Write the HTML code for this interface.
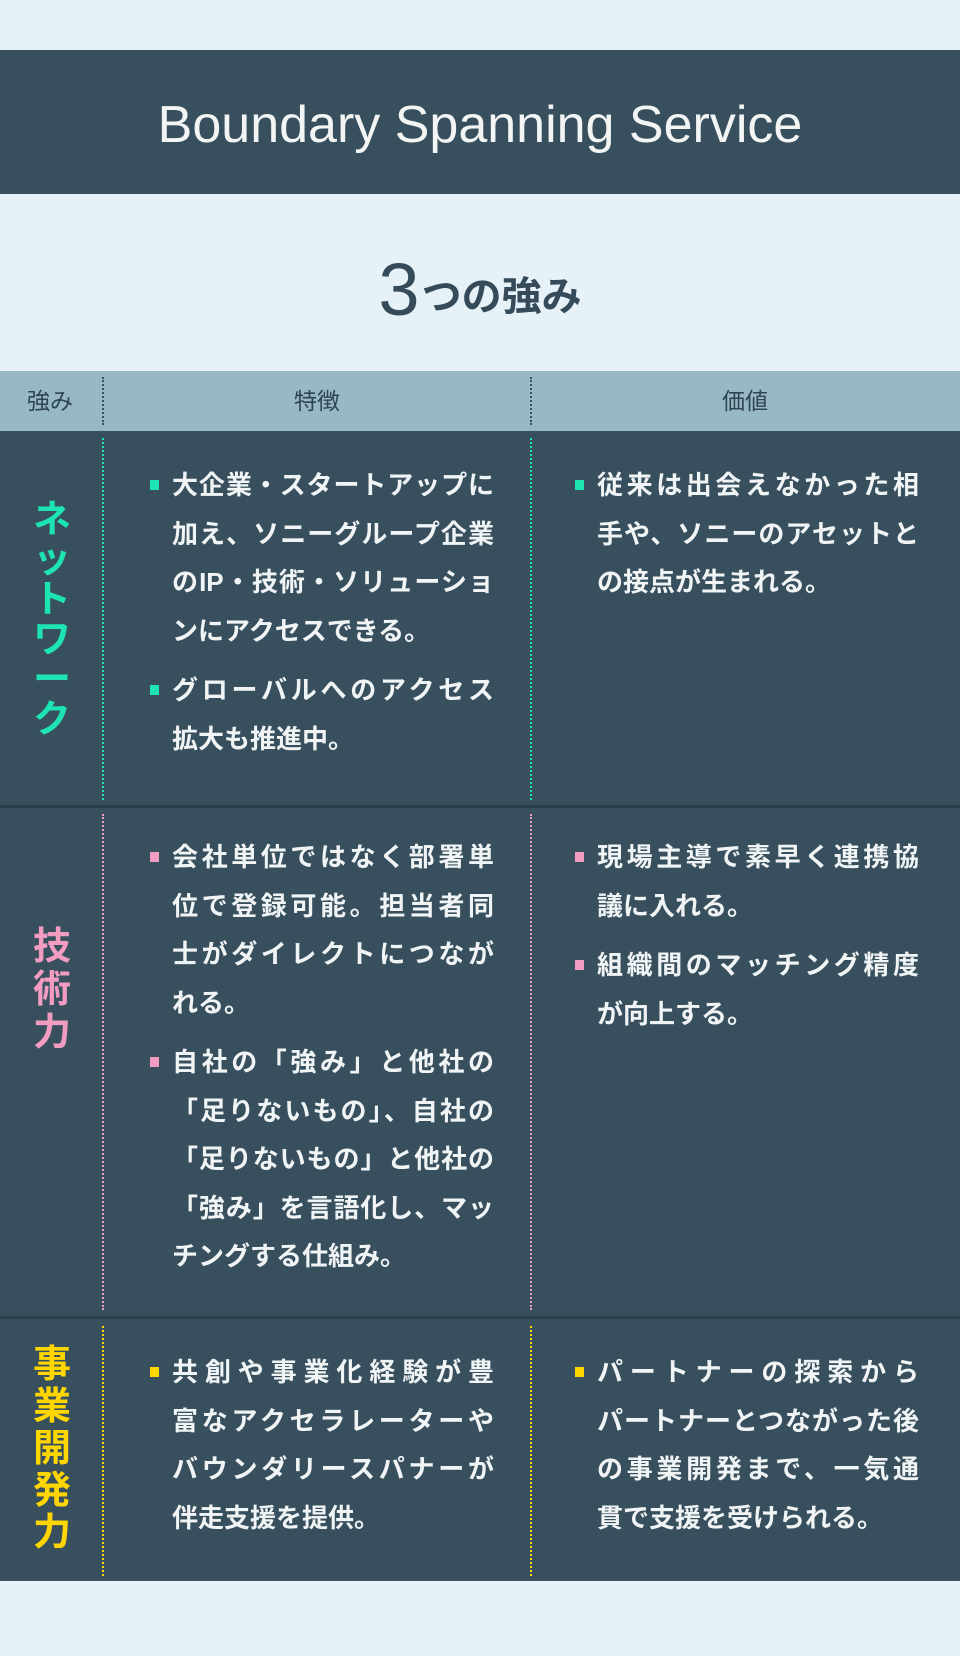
<!DOCTYPE html>
<html><head><meta charset="utf-8"><style>
*{margin:0;padding:0;box-sizing:border-box}
body{width:960px;height:1656px;background:#e6f2f8;position:relative;overflow:hidden;font-family:"Liberation Sans","Noto Sans CJK JP",sans-serif}
.abs{position:absolute}
.band{left:0;width:960px;top:50px;height:144px;background:#384f5e;color:#f2f5f4;font-size:52px;text-align:center;line-height:150px}
.sub{left:0;width:960px;top:248px;text-align:center;color:#364b59;font-size:40px;font-weight:bold;line-height:84px}
.sub b{font-size:74px;font-weight:normal;vertical-align:-5px;margin-right:2px}
.head{left:0;top:371px;width:960px;height:60px;background:#98b9c3;color:#2f4452;font-size:23px;line-height:60px}
.head span{position:absolute;top:0;transform:translateX(-50%)}
.row{left:0;width:960px;background:#384f5e}
.sep{left:0;width:960px;height:3px;background:#2b3f4c}
.vd{width:0;border-left:2px dotted}
.lab{font-size:38px;font-weight:bold;text-align:center;width:100px;left:2px}
.txt{color:#f0f4f5;font-size:26px;line-height:48.5px;font-weight:bold;white-space:nowrap;width:322px}
.txt div div{white-space:nowrap}
.j{text-align:justify;text-align-last:justify}
.p{position:relative;margin-bottom:11px}
.p:before{content:"";position:absolute;left:-22px;top:19px;width:9px;height:10px;background:var(--c)}
</style></head><body>
<div class="abs band">Boundary Spanning Service</div>
<div class="abs sub"><b>3</b>つの強み</div>
<div class="abs head"><span style="left:50px">強み</span><span style="left:317px">特徴</span><span style="left:745px">価値</span>
<div class="abs vd" style="left:102px;top:6px;height:48px;border-color:#3b4f5c"></div>
<div class="abs vd" style="left:530px;top:6px;height:48px;border-color:#3b4f5c"></div></div>

<div class="abs row" style="top:431px;height:375px"></div>
<div class="abs sep" style="top:805px"></div>
<div class="abs row" style="top:808px;height:509px"></div>
<div class="abs sep" style="top:1316px"></div>
<div class="abs row" style="top:1319px;height:262px"></div>

<div class="abs vd" style="left:102px;top:438px;height:362px;border-color:#1de4b0"></div>
<div class="abs vd" style="left:530px;top:438px;height:362px;border-color:#1de4b0"></div>
<div class="abs vd" style="left:102px;top:814px;height:496px;border-color:#f19cc0"></div>
<div class="abs vd" style="left:530px;top:814px;height:496px;border-color:#f19cc0"></div>
<div class="abs vd" style="left:102px;top:1326px;height:250px;border-color:#ffd600"></div>
<div class="abs vd" style="left:530px;top:1326px;height:250px;border-color:#ffd600"></div>

<div class="abs lab" style="top:500px;color:#1de4b0;line-height:40px">ネ<br>ッ<br>ト<br>ワ<br>ー<br>ク</div>
<div class="abs lab" style="top:926px;color:#f19cc0;line-height:43px">技<br>術<br>力</div>
<div class="abs lab" style="top:1344px;color:#ffd600;line-height:42px">事<br>業<br>開<br>発<br>力</div>

<div class="abs txt" style="left:172px;top:461px;--c:#1de4b0">
<div class="p"><div class="j">大企業・スタートアップに</div><div class="j">加え、ソニーグループ企業</div><div class="j">のIP・技術・ソリューショ</div><div>ンにアクセスできる。</div></div>
<div class="p"><div class="j">グローバルへのアクセス</div><div>拡大も推進中。</div></div></div>
<div class="abs txt" style="left:597px;top:461px;--c:#1de4b0">
<div class="p"><div class="j">従来は出会えなかった相</div><div class="j">手や、ソニーのアセットと</div><div>の接点が生まれる。</div></div></div>

<div class="abs txt" style="left:172px;top:833px;--c:#f19cc0">
<div class="p"><div class="j">会社単位ではなく部署単</div><div class="j">位で登録可能。担当者同</div><div class="j">士がダイレクトにつなが</div><div>れる。</div></div>
<div class="p"><div class="j">自社の「強み」と他社の</div><div class="j">「足りないもの」、自社の</div><div class="j">「足りないもの」と他社の</div><div class="j">「強み」を言語化し、マッ</div><div>チングする仕組み。</div></div></div>
<div class="abs txt" style="left:597px;top:833px;--c:#f19cc0">
<div class="p"><div class="j">現場主導で素早く連携協</div><div>議に入れる。</div></div>
<div class="p"><div class="j">組織間のマッチング精度</div><div>が向上する。</div></div></div>

<div class="abs txt" style="left:172px;top:1348px;--c:#ffd600">
<div class="p"><div class="j">共創や事業化経験が豊</div><div class="j">富なアクセラレーターや</div><div class="j">バウンダリースパナーが</div><div>伴走支援を提供。</div></div></div>
<div class="abs txt" style="left:597px;top:1348px;--c:#ffd600">
<div class="p"><div class="j">パートナーの探索から</div><div class="j">パートナーとつながった後</div><div class="j">の事業開発まで、一気通</div><div>貫で支援を受けられる。</div></div></div>
</body></html>
